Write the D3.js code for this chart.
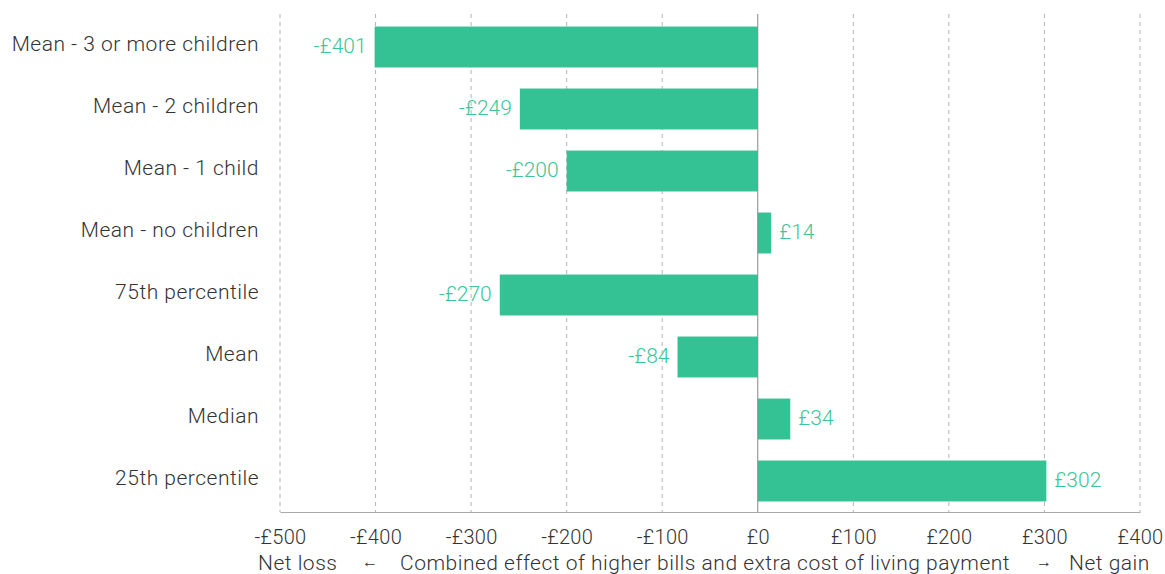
<!DOCTYPE html>
<html><head><meta charset="utf-8">
<script src="https://cdn.jsdelivr.net/npm/d3@7"></script>
<style>
body{margin:0;background:#fff;}
text{font-family:Roboto, "Noto Sans", sans-serif;}
</style></head>
<body>
<svg id="chart" width="1165" height="574"></svg>
<script>
const categories = ["Mean - 3 or more children","Mean - 2 children","Mean - 1 child","Mean - no children","75th percentile","Mean","Median","25th percentile"];
const values = [-401,-249,-200,14,-270,-84,34,302];
const tickValues = [-500,-400,-300,-200,-100,0,100,200,300,400];
const captionParts = ["Net loss","←","Combined effect of higher bills and extra cost of living payment","→","Net gain"];

const svg = d3.select("#chart");
const x = d3.scaleLinear().domain([-500,400]).range([280,1140]);
const y = d3.scaleBand().domain(categories).range([16,512]).paddingInner(0.34).paddingOuter(0.17);
const green = "#34c194";
const fmt = v => (v<0?"-":"") + "£" + Math.abs(v);

// gridlines
svg.append("g").selectAll("line").data(tickValues.filter(d=>d!==0)).join("line")
  .attr("x1",d=>x(d)).attr("x2",d=>x(d)).attr("y1",14).attr("y2",512)
  .attr("stroke","#b5b5b5").attr("stroke-dasharray","4,4").attr("stroke-width",1);

// bars
svg.append("g").selectAll("rect").data(values).join("rect")
  .attr("x",(d)=>x(Math.min(0,d))).attr("width",d=>Math.abs(x(d)-x(0)))
  .attr("y",(d,i)=>y(categories[i])).attr("height",y.bandwidth())
  .attr("fill",green);

// zero line
svg.append("line").attr("x1",x(0)).attr("x2",x(0)).attr("y1",14).attr("y2",512)
  .attr("stroke","#888").attr("stroke-width",1);

// bottom axis
const ax = svg.append("g").attr("transform","translate(0,512)")
  .call(d3.axisBottom(x).tickValues(tickValues).tickFormat(fmt).tickSize(0).tickPadding(18));
ax.select(".domain").attr("stroke","#aaa");
ax.selectAll("text").attr("font-size",20).attr("fill","#333").attr("font-family","Roboto, sans-serif")
  .attr("font-weight",300).attr("letter-spacing",0.3);

// value labels
svg.append("g").selectAll("text").data(values).join("text")
  .attr("x",d=> d<0 ? x(d)-8 : x(d)+8)
  .attr("y",(d,i)=>y(categories[i])+y.bandwidth()/2)
  .attr("dy","0.28em")
  .attr("text-anchor",d=>d<0?"end":"start")
  .attr("font-size",21).attr("font-weight",300).attr("fill","#3cc597")
  .text(fmt);

// category labels
svg.append("g").selectAll("text").data(categories).join("text")
  .attr("x",259).attr("y",d=>y(d)+y.bandwidth()/2).attr("dy","0.2em")
  .attr("text-anchor","end").attr("font-size",21).attr("font-weight",300).attr("fill","#333")
  .attr("letter-spacing",0.5)
  .text(d=>d);

// caption
const capX = [258,362,400,1036,1069];
svg.append("g").selectAll("text").data(captionParts).join("text")
  .attr("x",(d,i)=>capX[i]).attr("y",(d,i)=> (i===1||i===3)?567:570)
  .attr("font-size",(d,i)=> (i===1||i===3)?16:21).attr("font-weight",(d,i)=> (i===1||i===3)?400:300).attr("fill","#333")
  .attr("letter-spacing",(d,i)=> (i===1||i===3)?0:0.5)
  .text(d=>d);
</script>
</body></html>
